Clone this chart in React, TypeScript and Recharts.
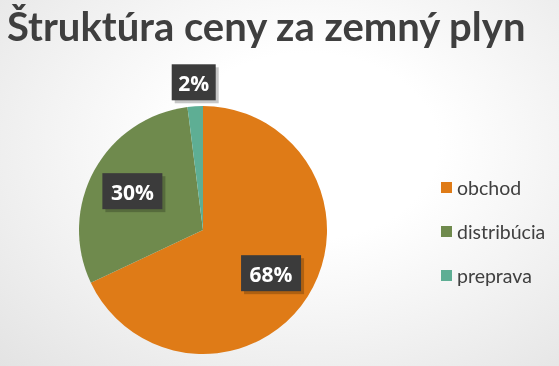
import { PieChart, Pie, Cell } from 'recharts';

const categories = ['obchod', 'distribúcia', 'preprava'];
const shares = [68, 30, 2];
const colors = ['#DF7B17', '#6F8A4D', '#5EAE94'];

const data = categories.map((name, i) => ({ name, value: shares[i] }));

const RAD = Math.PI / 180;

const renderLabel = (props: any) => {
  const { cx, cy, midAngle, outerRadius, percent, value } = props;
  const r = percent < 0.05 ? outerRadius + 24 : outerRadius * 0.65;
  const x = cx + r * Math.cos(-midAngle * RAD);
  const y = cy + r * Math.sin(-midAngle * RAD);
  const text = `${value}%`;
  const w = text.length * 16 + 12;
  const h = 36;
  return (
    <g>
      <rect x={x - w / 2 + 3} y={y - h / 2 + 3} width={w} height={h} fill="rgba(0,0,0,0.22)" />
      <rect x={x - w / 2} y={y - h / 2} width={w} height={h} fill="#3b3b3b" />
      <text
        x={x}
        y={y + 1}
        textAnchor="middle"
        dominantBaseline="central"
        fill="#ffffff"
        fontSize={21}
        fontWeight="bold"
        fontFamily="'Open Sans', sans-serif"
      >
        {text}
      </text>
    </g>
  );
};

export default function App() {
  return (
    <div
      style={{
        position: 'fixed',
        left: 0,
        top: 0,
        width: 559,
        height: 366,
        background: 'radial-gradient(ellipse at 55% 40%, #ffffff 30%, #e3e3e3 100%)',
        overflow: 'hidden',
      }}
    >
      <div
        style={{
          position: 'absolute',
          left: 7,
          top: 2,
          fontFamily: 'Lato, sans-serif',
          fontWeight: 'bold',
          fontSize: 40,
          color: '#3f3f3f',
          whiteSpace: 'nowrap',
        }}
      >
        Štruktúra ceny za zemný plyn
      </div>
      <div style={{ position: 'absolute', left: 0, top: 0 }}>
        <PieChart width={559} height={366} margin={{ top: 0, right: 0, bottom: 0, left: 0 }}>
          <Pie
            data={data}
            dataKey="value"
            nameKey="name"
            cx={203}
            cy={230}
            outerRadius={124}
            startAngle={90}
            endAngle={-270}
            stroke="none"
            label={renderLabel}
            labelLine={false}
            isAnimationActive={false}
          >
            {data.map((d, i) => (
              <Cell key={d.name} fill={colors[i]} />
            ))}
          </Pie>
        </PieChart>
      </div>
      <div
        style={{
          position: 'absolute',
          left: 441,
          top: 165,
          fontFamily: 'Lato, sans-serif',
          fontSize: 19.5,
          color: '#404040',
        }}
      >
        {data.map((d, i) => (
          <div key={d.name} style={{ display: 'flex', alignItems: 'center', height: 44 }}>
            <span
              style={{ width: 11, height: 11, background: colors[i], marginRight: 5, display: 'inline-block' }}
            />
            {d.name}
          </div>
        ))}
      </div>
    </div>
  );
}
